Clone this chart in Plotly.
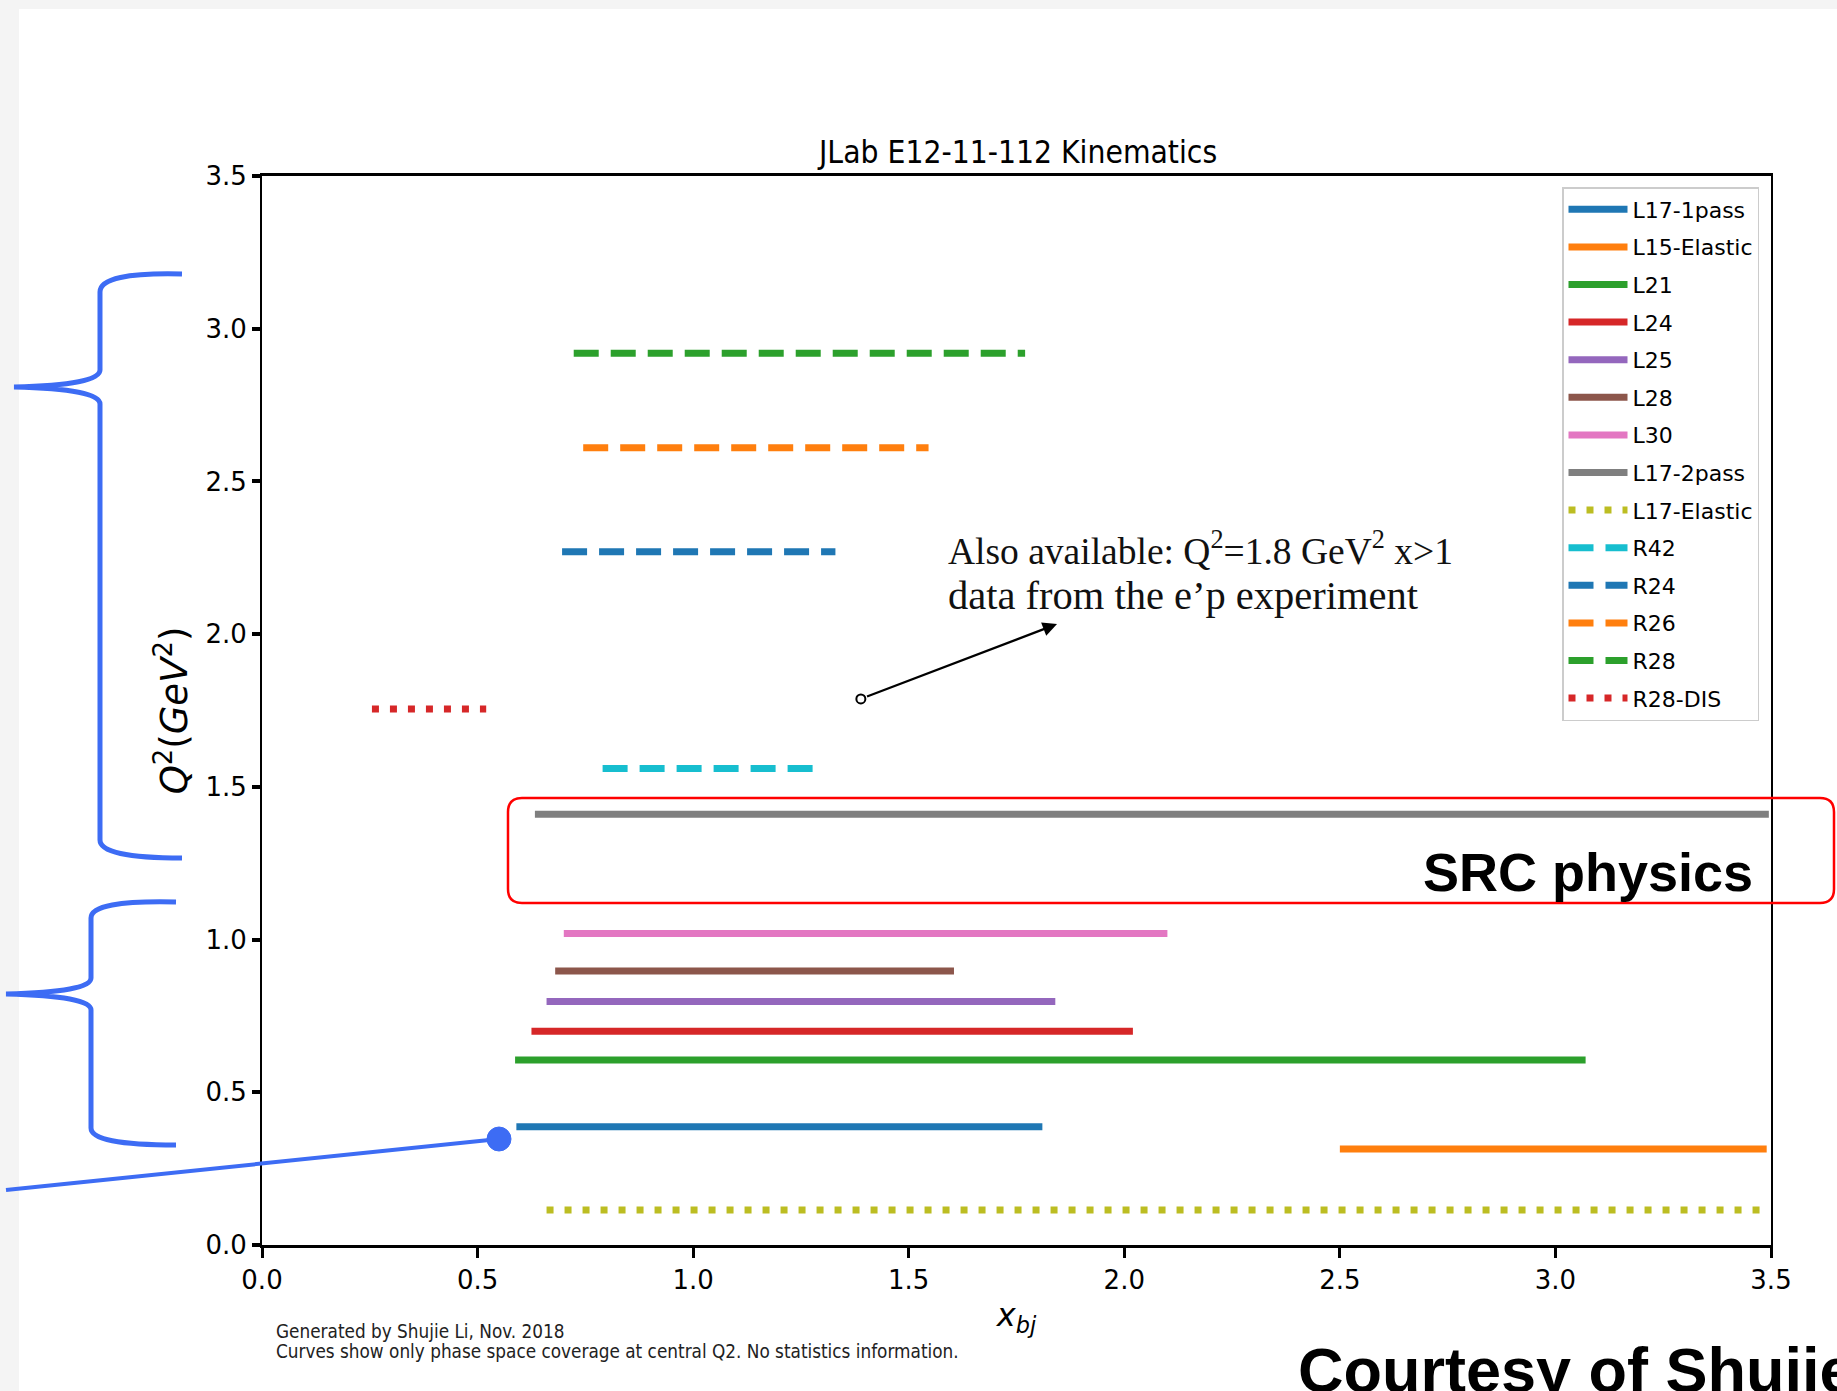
import plotly.graph_objects as go

# ---------------- data ----------------
names = ["L17-1pass", "L15-Elastic", "L21", "L24", "L25", "L28", "L30",
         "L17-2pass", "L17-Elastic", "R42", "R24", "R26", "R28", "R28-DIS"]
x_start = [0.59, 2.50, 0.587, 0.625, 0.66, 0.68, 0.70, 0.633, 0.66, 0.79, 0.696, 0.745, 0.723, 0.255]
x_end   = [1.81, 3.49, 3.07, 2.02, 1.84, 1.605, 2.10, 3.495, 3.495, 1.30, 1.33, 1.546, 1.77, 0.52]
q2      = [0.387, 0.314, 0.606, 0.70, 0.797, 0.897, 1.02, 1.41, 0.115, 1.56, 2.27, 2.61, 2.92, 1.755]

x_ticks = [0.0, 0.5, 1.0, 1.5, 2.0, 2.5, 3.0, 3.5]
y_ticks = [0.0, 0.5, 1.0, 1.5, 2.0, 2.5, 3.0, 3.5]

# annotation point (Q2 = 1.8 GeV^2 data) and arrow head
note_x, note_q2 = 1.389, 1.788
head_x, head_q2 = 1.844, 2.033

# ---------------- styles ----------------
colors = ["#1f77b4", "#ff7f0e", "#2ca02c", "#d62728", "#9467bd", "#8c564b", "#e377c2",
          "#7f7f7f", "#bcbd22", "#17becf", "#1f77b4", "#ff7f0e", "#2ca02c", "#d62728"]
DASHED = "25px,12px"
DOTTED = "7px,11px"
dashes = ["solid"] * 8 + [DOTTED, DASHED, DASHED, DASHED, DASHED, DOTTED]

W, H = 1837, 1391
L, R, T, B = 262, 66, 176, 146
PW, PH = W - L - R, H - T - B


def px(x):
    return (x - L) / PW


def py(y):
    return (H - B - y) / PH


fig = go.Figure()
for n, x0, x1, q, c, d in zip(names, x_start, x_end, q2, colors, dashes):
    fig.add_trace(go.Scatter(x=[x0, x1], y=[q, q], mode="lines", name=n, legendgroup=n,
                             line=dict(color=c, width=7, dash=d)))

fig.add_trace(go.Scatter(x=[note_x], y=[note_q2], mode="markers", showlegend=False,
                         hoverinfo="skip",
                         marker=dict(symbol="circle-open", size=9, color="black",
                                     line=dict(width=2, color="black"))))

shapes = []
# gray page strips
shapes.append(dict(type="rect", xref="paper", yref="paper", x0=px(0), x1=px(19), y0=py(H), y1=py(0),
                   fillcolor="#f4f4f4", line=dict(width=0), layer="below"))
shapes.append(dict(type="rect", xref="paper", yref="paper", x0=px(0), x1=px(W), y0=py(9), y1=py(0),
                   fillcolor="#f4f4f4", line=dict(width=0), layer="below"))


def path(cmds):
    out = []
    for c in cmds:
        if isinstance(c, str):
            out.append(c)
        else:
            out.append(f"{px(c[0]):.5f},{py(c[1]):.5f}")
    return " ".join(out)


blue = "#3d6cf4"
# upper brace
shapes.append(dict(type="path", xref="paper", yref="paper", line=dict(color=blue, width=5),
                   path=path(["M", (182, 274), "Q", (100, 272), (100, 292), "L", (100, 370),
                              "Q", (100, 385), (14, 387), "Q", (100, 389), (100, 404),
                              "L", (100, 840), "Q", (100, 858), (182, 858)])))
# lower brace
shapes.append(dict(type="path", xref="paper", yref="paper", line=dict(color=blue, width=5),
                   path=path(["M", (176, 902), "Q", (91, 900), (91, 918), "L", (91, 978),
                              "Q", (91, 992), (6, 994), "Q", (91, 996), (91, 1010),
                              "L", (91, 1128), "Q", (91, 1145), (176, 1145)])))
# pointer line + dot
shapes.append(dict(type="line", xref="paper", yref="paper", x0=px(6), y0=py(1190), x1=px(499), y1=py(1139),
                   line=dict(color=blue, width=4)))
shapes.append(dict(type="circle", xref="paper", yref="paper", x0=px(487), x1=px(511), y0=py(1151), y1=py(1127),
                   fillcolor=blue, line=dict(color=blue, width=1)))
# red rounded box
x0r, x1r, y0r, y1r, rr = 508, 1834, 798, 903, 14
shapes.append(dict(type="path", xref="paper", yref="paper", line=dict(color="#ff0000", width=2.5),
                   path=path(["M", (x0r + rr, y0r), "L", (x1r - rr, y0r), "Q", (x1r, y0r), (x1r, y0r + rr),
                              "L", (x1r, y1r - rr), "Q", (x1r, y1r), (x1r - rr, y1r),
                              "L", (x0r + rr, y1r), "Q", (x0r, y1r), (x0r, y1r - rr),
                              "L", (x0r, y0r + rr), "Q", (x0r, y0r), (x0r + rr, y0r), "Z"])))

serif = "Liberation Serif, DejaVu Serif, serif"
cond = "DejaVu Sans Condensed, DejaVu Sans, sans-serif"
annotations = [
    dict(x=head_x, y=head_q2, ax=note_x, ay=note_q2, xref="x", yref="y", axref="x", ayref="y",
         text="", showarrow=True, arrowhead=2, arrowsize=1.3, arrowwidth=2.2, arrowcolor="black",
         standoff=0, startstandoff=5),
    dict(x=px(946), y=py(548), xref="paper", yref="paper", xanchor="left", yanchor="middle",
         showarrow=False, text="Also available: Q<sup>2</sup>=1.8 GeV<sup>2</sup> x>1",
         font=dict(family=serif, size=37.5, color="#111")),
    dict(x=px(946), y=py(595), xref="paper", yref="paper", xanchor="left", yanchor="middle",
         showarrow=False, text="data from the e’p experiment",
         font=dict(family=serif, size=40.5, color="#111")),
    dict(x=px(1755), y=py(872), xref="paper", yref="paper", xanchor="right", yanchor="middle",
         showarrow=False, text="<b>SRC physics</b>",
         font=dict(family="Liberation Sans, Arial, sans-serif", size=54, color="black")),
    dict(x=px(1296), y=py(1370), xref="paper", yref="paper", xanchor="left", yanchor="middle",
         showarrow=False, text="<b>Courtesy of Shujie Li</b>",
         font=dict(family="Liberation Sans, Arial, sans-serif", size=63, color="black")),
    dict(x=px(274), y=py(1331), xref="paper", yref="paper", xanchor="left", yanchor="middle",
         showarrow=False, align="left", text="Generated by Shujie Li, Nov. 2018",
         font=dict(family=cond, size=18.8, color="#222")),
    dict(x=px(274), y=py(1351), xref="paper", yref="paper", xanchor="left", yanchor="middle",
         showarrow=False, align="left",
         text="Curves show only phase space coverage at central Q2. No statistics information.",
         font=dict(family=cond, size=18.8, color="#222")),
    dict(x=0.5, y=py(152), xref="paper", yref="paper", xanchor="center", yanchor="middle",
         showarrow=False, text="JLab E12-11-112 Kinematics",
         font=dict(family=cond, size=31.5, color="black")),
]

fig.update_layout(
    width=W, height=H,
    margin=dict(l=L, r=R, t=T, b=B, pad=0),
    paper_bgcolor="white", plot_bgcolor="white",
    shapes=shapes, annotations=annotations,
    font=dict(family="DejaVu Sans, sans-serif", color="black"),
    legend=dict(x=px(1562), y=py(187), xanchor="left", yanchor="top",
                bgcolor="white", bordercolor="#cccccc", borderwidth=1.5,
                font=dict(family="DejaVu Sans, sans-serif", size=22, color="black"),
                itemwidth=59, tracegroupgap=6),
    showlegend=True,
)
fig.update_xaxes(range=[0, 3.5], tickvals=x_ticks, ticktext=[f"{v:.1f}" for v in x_ticks],
                 showgrid=False, zeroline=False, showline=True, mirror=True,
                 linecolor="black", linewidth=3, ticks="outside", ticklen=10, tickwidth=3,
                 tickcolor="black", tickfont=dict(size=26),
                 title=dict(text="<i>x</i><sub><i>bj</i></sub>", font=dict(size=32), standoff=10))
fig.update_yaxes(range=[0, 3.5], tickvals=y_ticks, ticktext=[f"{v:.1f}" for v in y_ticks],
                 showgrid=False, zeroline=False, showline=True, mirror=True,
                 linecolor="black", linewidth=2, ticks="outside", ticklen=8, tickwidth=4,
                 tickcolor="black", tickfont=dict(size=26),
                 title=dict(text="<i>Q</i><sup>2</sup>(<i>GeV</i><sup>2</sup>)", font=dict(size=37), standoff=6))

fig.write_html("out.html")
